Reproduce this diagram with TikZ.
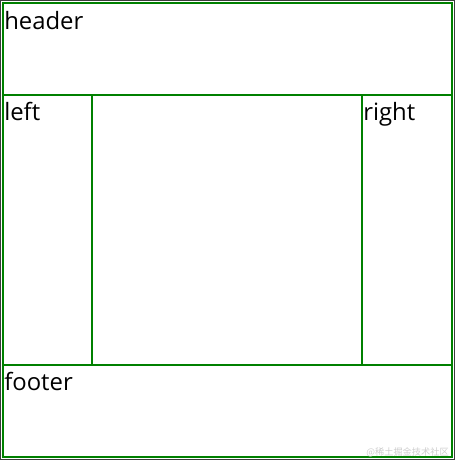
\documentclass[tikz,border=0pt]{standalone}
\usepackage{fontspec}
\setmainfont{Open Sans}
\newfontfamily\cjk{Noto Sans CJK SC}
\definecolor{boxgreen}{RGB}{0,128,0}
\definecolor{frame}{RGB}{60,60,60}
\definecolor{wm}{RGB}{205,205,205}
\begin{document}
\begin{tikzpicture}[x=0.75pt,y=-0.75pt,
  region/.style={draw=boxgreen,line width=1.5pt,inner sep=0pt,outer sep=0pt},
  lbl/.style={anchor=base west,inner sep=0pt,font=\fontsize{17.9pt}{20pt}\selectfont}]
\useasboundingbox (0,0) rectangle (455,460);
\fill[white] (0,0) rectangle (455,460);
\draw[frame,line width=0.75pt] (0.5,0.5) rectangle (454.5,459.5);
\draw[region] (2.5,3) rectangle (451.5,456.5);
\coordinate (hl) at (2.5,95);
\coordinate (hr) at (451.5,95);
\coordinate (fl) at (2.5,365);
\coordinate (fr) at (451.5,365);
\coordinate (lt) at (92,95);
\coordinate (lb) at (92,365);
\coordinate (rt) at (362,95);
\coordinate (rb) at (362,365);
\draw[region] (hl) -- (hr);
\draw[region] (fl) -- (fr);
\draw[region] (lt) -- (lb);
\draw[region] (rt) -- (rb);
\node[lbl] (header) at (4,30) {header};
\node[lbl] (left) at (4,120) {left};
\node[lbl] (right) at (363,120) {right};
\node[lbl] (footer) at (4,390) {footer};
\node[anchor=base east,inner sep=0pt,text=wm,font=\cjk\fontsize{6.9pt}{8pt}\selectfont] (wmark) at (449,455) {@稀土掘金技术社区};
\end{tikzpicture}
\end{document}
